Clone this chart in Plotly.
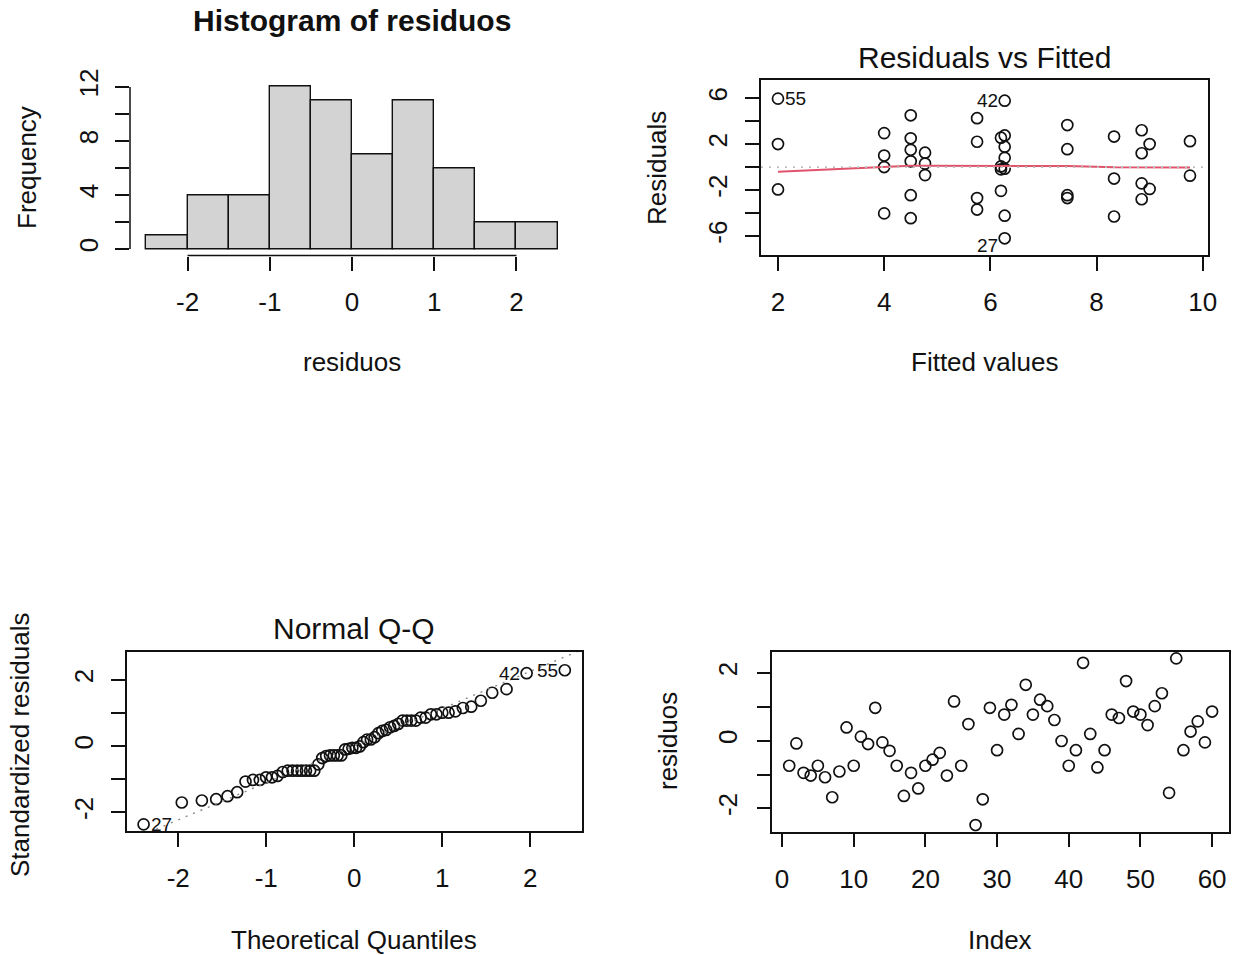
import numpy as np
import plotly.graph_objects as go
from statistics import NormalDist

W, H = 1236, 955
FONT = "Liberation Sans, Arial, Helvetica, sans-serif"

# ---------------- data ----------------
# residuos by observation index (1..60), read from the Index plot
residuos = [-0.74, -0.08, -0.95, -1.03, -0.74, -1.08, -1.67, -0.91, 0.39, -0.74,
            0.12, -0.10, 0.97, -0.05, -0.30, -0.74, -1.63, -0.95, -1.41, -0.74,
            -0.56, -0.36, -1.03, 1.16, -0.74, 0.49, -2.49, -1.73, 0.97, -0.28,
            0.77, 1.06, 0.20, 1.65, 0.77, 1.21, 1.02, 0.61, -0.01, -0.74,
            -0.28, 2.30, 0.20, -0.79, -0.28, 0.77, 0.67, 1.76, 0.86, 0.77,
            0.46, 1.02, 1.40, -1.54, 2.43, -0.28, 0.27, 0.57, -0.05, 0.86]

hist_breaks = [-2.5, -2.0, -1.5, -1.0, -0.5, 0.0, 0.5, 1.0, 1.5, 2.0, 2.5]

# Residuals vs Fitted (raw residuals; visible, distinct points)
fitted = [2.0, 2.0, 2.0, 4.0, 4.0, 4.0, 4.0, 4.5, 4.5, 4.5, 4.5, 4.5, 4.5,
          4.77, 4.77, 4.77, 5.75, 5.75, 5.75, 5.75, 6.2, 6.2, 6.2, 6.2,
          6.27, 6.27, 6.27, 6.27, 6.27, 6.27, 6.27, 7.45, 7.45, 7.45, 7.45,
          8.33, 8.33, 8.33, 8.85, 8.85, 8.85, 8.85, 9.0, 9.0, 9.76, 9.76]
raw_resid = [5.95, 2.0, -1.95, 2.95, 1.0, 0.0, -4.03, 4.5, 2.5, 1.5, 0.5, -2.45, -4.45,
             1.25, 0.3, -0.7, 4.25, 2.2, -2.7, -3.7, 2.55, 0.05, -0.2, -2.07,
             5.77, 2.75, 1.77, 0.8, -0.15, -4.23, -6.2, 3.65, 1.55, -2.45, -2.7,
             2.65, -1.0, -4.3, 3.2, 1.2, -1.42, -2.8, 2.0, -1.9, 2.25, -0.75]

# smoother (red) in Residuals vs Fitted
smooth_x = [2.0, 4.0, 4.5, 4.77, 5.75, 6.2, 6.27, 7.45, 8.33, 8.85, 9.0, 9.76]
smooth_y = [-0.41, 0.03, 0.11, 0.11, 0.11, 0.11, 0.11, 0.09, -0.02, -0.03, -0.03, -0.03]

# standardized residuals (sorted) for the Normal Q-Q plot
std_resid_sorted = [-2.36, -1.70, -1.64, -1.60, -1.51, -1.39, -1.07, -1.02, -1.02, -0.94,
                    -0.94, -0.90, -0.78, -0.74, -0.74, -0.74, -0.74, -0.74, -0.74, -0.74,
                    -0.55, -0.36, -0.30, -0.28, -0.28, -0.28, -0.28, -0.10, -0.08, -0.05,
                    -0.05, -0.01, 0.12, 0.20, 0.20, 0.27, 0.39, 0.46, 0.49, 0.57,
                    0.61, 0.67, 0.77, 0.77, 0.77, 0.77, 0.86, 0.86, 0.96, 0.96,
                    1.01, 1.01, 1.05, 1.15, 1.19, 1.37, 1.61, 1.72, 2.20, 2.29]

# ---------------- derived ----------------
res = np.array(residuos)
br = np.array(hist_breaks)
counts = [int(((res > br[i]) & (res <= br[i + 1])).sum()) for i in range(len(br) - 1)]
mids = (br[:-1] + br[1:]) / 2

n = len(std_resid_sorted)
theo = [NormalDist().inv_cdf((i + 0.5) / n) for i in range(n)]
q1, q3 = np.quantile(std_resid_sorted, [0.25, 0.75])
z1, z3 = NormalDist().inv_cdf(0.25), NormalDist().inv_cdf(0.75)
qq_slope = (q3 - q1) / (z3 - z1)
qq_int = q1 - qq_slope * z1

index = list(range(1, len(residuos) + 1))

# ---------------- figure ----------------
fig = go.Figure()

mk = dict(symbol="circle-open", size=11, color="#111111", line=dict(width=1.7, color="#111111"))

# histogram
fig.add_trace(go.Bar(x=mids, y=counts, width=0.5, xaxis="x", yaxis="y",
                     marker=dict(color="#D3D3D3", line=dict(color="#111111", width=1.4))))

# residuals vs fitted
fig.add_trace(go.Scatter(x=fitted, y=raw_resid, mode="markers", marker=mk, xaxis="x2", yaxis="y2"))
fig.add_trace(go.Scatter(x=smooth_x, y=smooth_y, mode="lines", xaxis="x2", yaxis="y2",
                         line=dict(color="#DF536B", width=2)))
fig.add_trace(go.Scatter(x=[1.68, 10.09], y=[0, 0], mode="lines", xaxis="x2", yaxis="y2",
                         line=dict(color="#BEBEBE", width=1.7, dash="2px,6px")))

# normal QQ
fig.add_trace(go.Scatter(x=theo, y=std_resid_sorted, mode="markers", marker=mk, xaxis="x3", yaxis="y3"))
fig.add_trace(go.Scatter(x=[-2.586, 2.586], y=[qq_int - qq_slope * 2.586, qq_int + qq_slope * 2.586],
                         mode="lines", xaxis="x3", yaxis="y3",
                         line=dict(color="#8A8A8A", width=1.4, dash="2px,6px")))

# index plot
fig.add_trace(go.Scatter(x=index, y=residuos, mode="markers", marker=mk, xaxis="x4", yaxis="y4"))


def dom_x(a, b):
    return [a / W, b / W]


def dom_y(top, bottom):
    return [1 - bottom / H, 1 - top / H]


def ax(**kw):
    d = dict(showgrid=False, zeroline=False, ticks="outside", ticklen=14, tickwidth=1.5,
             tickcolor="#111111", tickfont=dict(family=FONT, size=26, color="#111111"),
             fixedrange=True, tickmode="array")
    d.update(kw)
    return d


boxed = dict(showline=True, mirror=True, linecolor="#111111", linewidth=1.5)

fig.update_layout(
    width=W, height=H, autosize=False,
    margin=dict(l=0, r=0, t=0, b=0, autoexpand=False),
    paper_bgcolor="white", plot_bgcolor="white",
    showlegend=False,
    bargap=0,
    xaxis=ax(domain=dom_x(130, 574), range=[-2.7, 2.7], anchor="y",
             tickvals=[-2, -1, 0, 1, 2], ticktext=["-2", "-1", "0", "1", "2"],
             ticklabelstandoff=9),
    yaxis=ax(domain=dom_y(80.5, 255.5), range=[-0.48, 12.48], anchor="x",
             tickvals=[0, 2, 4, 6, 8, 10, 12], ticktext=["0", "", "4", "", "8", "", "12"],
             tickangle=-90, ticklabelstandoff=7),
    xaxis2=ax(domain=dom_x(761, 1207.5), range=[1.68, 10.09], anchor="y2",
              tickvals=[2, 4, 6, 8, 10], ticktext=["2", "4", "6", "8", "10"],
              ticklabelstandoff=9, **boxed),
    yaxis2=ax(domain=dom_y(80, 255), range=[-7.65, 7.57], anchor="x2",
              tickvals=[-6, -4, -2, 0, 2, 4, 6], ticktext=["-6", "", "-2", "", "2", "", "6"],
              tickangle=-90, ticklabelstandoff=8, **boxed),
    xaxis3=ax(domain=dom_x(126.7, 581.7), range=[-2.586, 2.586], anchor="y3",
              tickvals=[-2, -1, 0, 1, 2], ticktext=["-2", "-1", "0", "1", "2"],
              ticklabelstandoff=9, **boxed),
    yaxis3=ax(domain=dom_y(652, 831), range=[-2.56, 2.84], anchor="x3",
              tickvals=[-2, -1, 0, 1, 2], ticktext=["-2", "", "0", "", "2"],
              tickangle=-90, ticklabelstandoff=8, **boxed),
    xaxis4=ax(domain=dom_x(772.3, 1229), range=[-1.36, 62.36], anchor="y4",
              tickvals=[0, 10, 20, 30, 40, 50, 60], ticktext=["0", "10", "20", "30", "40", "50", "60"],
              ticklabelstandoff=9, **boxed),
    yaxis4=ax(domain=dom_y(651.7, 831.7), range=[-2.687, 2.627], anchor="x4",
              tickvals=[-2, -1, 0, 1, 2], ticktext=["-2", "", "0", "", "2"],
              tickangle=-90, ticklabelstandoff=9, **boxed),
)

# detached axis lines of the histogram (R style)
fig.add_shape(type="line", xref="x", yref="y domain", x0=-2, x1=2, y0=0, y1=0,
              line=dict(color="#111111", width=1.5))
fig.add_shape(type="line", xref="x domain", yref="y", x0=0, x1=0, y0=0, y1=12,
              line=dict(color="#111111", width=1.5))


def text(s, px, py, size=26, bold=False, angle=0):
    fig.add_annotation(text=("<b>%s</b>" % s) if bold else s, x=px / W, y=1 - py / H,
                       xref="paper", yref="paper", showarrow=False, textangle=angle,
                       xanchor="center", yanchor="middle",
                       font=dict(family=FONT, size=size, color="#111111"))


text("Histogram of residuos", 352, 21, size=30, bold=True)
text("Frequency", 27, 168, angle=-90)
text("residuos", 352, 362)
text("Residuals vs Fitted", 984, 57, size=30)
text("Residuals", 657, 168, angle=-90)
text("Fitted values", 984, 362)
text("Normal Q-Q", 354, 628, size=30)
text("Standardized residuals", 20, 745, angle=-90)
text("Theoretical Quantiles", 354, 940)
text("residuos", 668, 741, angle=-90)
text("Index", 1000, 940)


def pt_label(s, x, y, xr, yr, anchor, xshift=0, yshift=0):
    fig.add_annotation(text=s, x=x, y=y, xref=xr, yref=yr, showarrow=False,
                       xanchor=anchor, yanchor="middle", xshift=xshift, yshift=yshift,
                       font=dict(family=FONT, size=19, color="#111111"))


# id labels: Residuals vs Fitted
pt_label("55", fitted[0], raw_resid[0], "x2", "y2", "left", xshift=5)
pt_label("42", fitted[24], raw_resid[24], "x2", "y2", "right", xshift=-5)
pt_label("27", fitted[30], raw_resid[30], "x2", "y2", "right", xshift=-5, yshift=-7)
# id labels: Normal Q-Q
pt_label("27", theo[0], std_resid_sorted[0], "x3", "y3", "left", xshift=5)
pt_label("42", theo[-2], std_resid_sorted[-2], "x3", "y3", "right", xshift=-5)
pt_label("55", theo[-1], std_resid_sorted[-1], "x3", "y3", "right", xshift=-5)

fig.write_html("out.html", config={"displayModeBar": False},
               post_script="document.body.style.margin='0';document.body.style.overflow='hidden';")
